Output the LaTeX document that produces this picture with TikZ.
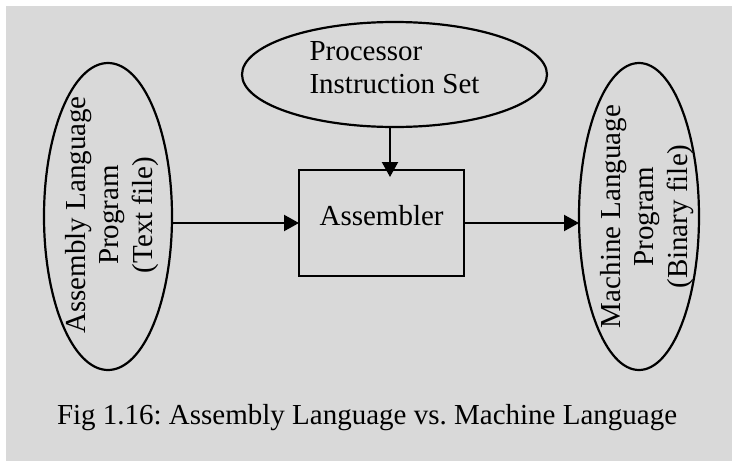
\documentclass[tikz,border=0pt]{standalone}
\usepackage{fontspec}
\setmainfont{Liberation Serif}
\usetikzlibrary{shapes.geometric,arrows.meta}
\definecolor{panelgray}{RGB}{217,217,217}
\frenchspacing
\begin{document}
\begin{tikzpicture}[x=1pt,y=-1pt,
  lbl/.style={font=\fontsize{29}{33.4}\selectfont, inner sep=0pt, outer sep=0pt},
  oval/.style={draw, ellipse, line width=2.2pt, inner sep=0pt, outer sep=0pt},
  procbox/.style={draw, rectangle, line width=2.6pt, inner sep=0pt, outer sep=0pt},
  arr/.style={line width=2.2pt, -{Triangle[length=15pt,width=16pt]}},
]
\useasboundingbox (0,0) rectangle (732,461);
\fill[panelgray] (6,6) rectangle (732,461);

% shapes
\node[oval, minimum width=128pt, minimum height=307pt] (src) at (108,216.5) {};
\node[oval, minimum width=120pt, minimum height=307pt] (dst) at (639,216.5) {};
\node[oval, minimum width=305pt, minimum height=105pt] (isa) at (394.5,74.5) {};
\node[procbox, minimum width=165pt, minimum height=106pt] (asm) at (381.5,223) {};

% texts
\node[lbl, rotate=90, align=center] (srctext) at (112,215) {Assembly Language\\Program\\(Text file)};
\node[lbl, rotate=90, align=center] (dsttext) at (647,216.5) {Machine Language\\Program\\(Binary file)};
\node[lbl, align=left] (isatext) at (394.5,67.5) {Processor\\Instruction Set};
\node[lbl, anchor=base] (asmtext) at (381.6,225) {Assembler};
\node[lbl, anchor=base west] (caption) at (57,424) {Fig 1.16: Assembly Language vs. Machine Language};

% connectors
\draw[arr] ([xshift=-4.5pt]isa.south) -- ([xshift=8.5pt,yshift=-7pt]asm.north);
\draw[arr] (src.east |- asm.west) -- (asm.west);
\draw[arr] (asm.east) -- (dst.west |- asm.east);
\end{tikzpicture}
\end{document}
